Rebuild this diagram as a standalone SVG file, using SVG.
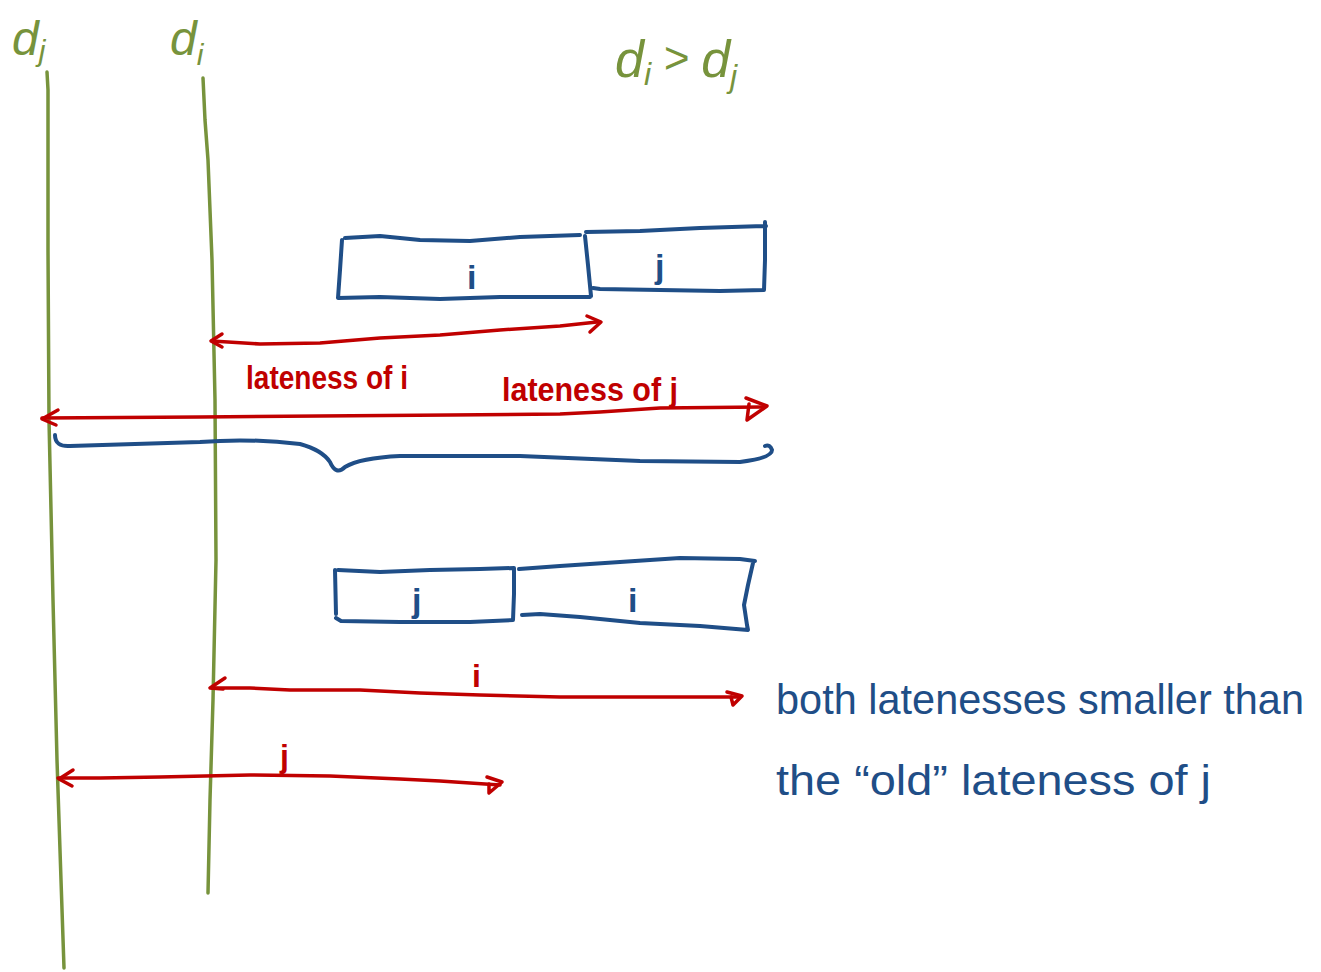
<svg xmlns="http://www.w3.org/2000/svg" width="1321" height="972" viewBox="0 0 1321 972">
<style>
.g{fill:none;stroke:#77933C;stroke-width:3.5;stroke-linecap:round;stroke-linejoin:round}
.b{fill:none;stroke:#1F4E87;stroke-width:4;stroke-linecap:round;stroke-linejoin:round}
.r{fill:none;stroke:#C00000;stroke-width:3.5;stroke-linecap:round;stroke-linejoin:round}
.tg{fill:#77933C;font-family:"Liberation Sans","DejaVu Sans",sans-serif;font-style:italic}
.tb{fill:#1F4E87;font-family:"Liberation Sans","DejaVu Sans",sans-serif}
.tbl{fill:#1F4E87;font-family:"Liberation Sans","DejaVu Sans",sans-serif;font-weight:bold}
.tr{fill:#C00000;font-family:"Liberation Sans","DejaVu Sans",sans-serif;font-weight:bold}
</style>
<rect width="1321" height="972" fill="#ffffff"/>
<g id="deadline-j">
<path class="g" d="M47,72 L48,90 L48,250 L49,420 L53,600 L57,760 L61,880 L64,968"/>
<text class="tg" x="12" y="55" font-size="48">d<tspan font-size="30" dy="6">j</tspan></text>
</g>
<g id="deadline-i">
<path class="g" d="M203,78 L205,120 L208,160 L212,260 L215,400 L216,560 L213,700 L210,800 L208,893"/>
<text class="tg" x="170" y="55" font-size="48">d<tspan font-size="30" dy="10">i</tspan></text>
</g>
<g id="condition">
<text class="tg" x="615" y="77" font-size="52">d<tspan font-size="32" dy="8">i</tspan><tspan font-size="44" dy="-12"> &gt; </tspan><tspan font-size="52" dy="4">d</tspan><tspan font-size="32" dy="10">j</tspan></text>
</g>
<g id="job-i-first">
<path class="b" d="M345,238 L380,236 L420,240 L470,241 L520,237 L580,235 M342,240 L340,270 L338,298 L380,297 L440,299 L500,297 L590,297 M585,236 L588,265 L591,296"/>
<text class="tbl" x="467" y="289" font-size="34">i</text>
</g>
<g id="job-j-second">
<path class="b" d="M586,232 L640,231 L700,228 L766,226 M765,222 L765,260 L764,290 L720,291 L660,290 L600,289 L593,288"/>
<text class="tbl" x="655" y="278" font-size="34">j</text>
</g>
<g id="brace">
<path class="b" d="M55,435 Q55,447 70,446 L200,442 Q250,438 300,444 Q322,450 330,462 Q336,476 345,467 Q360,458 400,456 L520,456 L640,461 L740,462 Q772,458 772,450 Q770,444 765,446"/>
</g>
<g id="job-j-first">
<path class="b" d="M335,570 L336,614 M338,570 L380,572 L430,570 L480,569 L514,568 L514,594 L513,620 L470,622 L400,622 L341,621 L336,618"/>
<text class="tbl" x="412" y="612" font-size="34">j</text>
</g>
<g id="job-i-second">
<path class="b" d="M519,569 L560,566 L620,562 L680,558 L740,559 L755,561 M753,563 L748,585 L744,605 L747,625 L748,630 L700,626 L640,623 L580,617 L540,614 L522,615"/>
<text class="tbl" x="628" y="612" font-size="34">i</text>
</g>
<g id="connectors">
<path class="r" d="M212,341 L260,344 L320,343 L380,338 L440,335 L500,330 L560,326 L597,322"/>
<path class="r" d="M222,334 L211,341 L222,347"/>
<path class="r" d="M587,316 L601,322 L590,332"/>
<path class="r" d="M42,418 L200,417 L450,415 L560,414 L600,412 L660,408 L762,407"/>
<path class="r" d="M58,410 L42,419 L56,425"/>
<path class="r" d="M746,398 L767,406 L747,420 L749,404"/>
<path class="r" d="M212,688 L250,688 L290,690 L360,690 L420,693 L480,695 L560,697 L650,697 L738,697"/>
<path class="r" d="M225,678 L210,688 L223,689"/>
<path class="r" d="M727,692 L742,696 L733,705 L731,697"/>
<path class="r" d="M58,778 L100,778 L160,777 L250,775 L330,776 L400,779 L440,781 L500,785"/>
<path class="r" d="M73,770 L59,779 L72,786"/>
<path class="r" d="M487,777 L502,782 L489,793 L489,784"/>
</g>
<g id="label-lateness-i">
<text class="tr" x="246" y="389" font-size="34" textLength="162" lengthAdjust="spacingAndGlyphs">lateness of i</text>
</g>
<g id="label-lateness-j">
<text class="tr" x="502" y="401" font-size="34" textLength="176" lengthAdjust="spacingAndGlyphs">lateness of j</text>
</g>
<g id="label-i">
<text class="tr" x="472" y="687" font-size="32">i</text>
</g>
<g id="label-j">
<text class="tr" x="280" y="767" font-size="32">j</text>
</g>
<g id="note">
<text class="tb" x="776" y="714" font-size="42" textLength="528" lengthAdjust="spacingAndGlyphs">both latenesses smaller than</text>
<text class="tb" x="776" y="795" font-size="42" textLength="435" lengthAdjust="spacingAndGlyphs">the “old” lateness of j</text>
</g>
</svg>
